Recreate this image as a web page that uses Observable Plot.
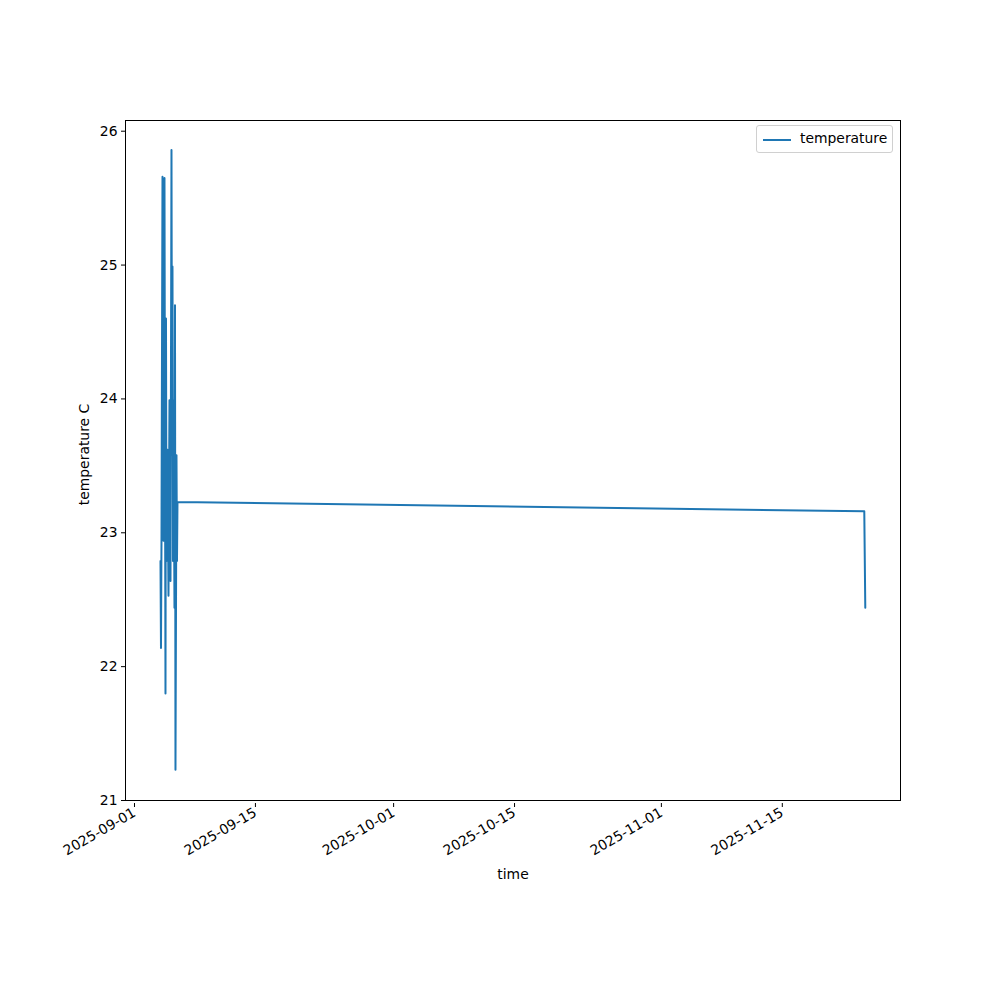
<!DOCTYPE html>
<html>
<head>
<meta charset="utf-8">
<script src="https://cdn.jsdelivr.net/npm/d3@7"></script>
<script src="https://cdn.jsdelivr.net/npm/@observablehq/plot@0.6"></script>
<style>
  body { margin: 0; background: #fff; }
  #wrap { position: relative; width: 1000px; height: 1000px; font-family: "DejaVu Sans", sans-serif; }
  #legend { position: absolute; left: 756px; top: 125px; width: 137px; height: 28px; border: 1px solid #d0d0d0; border-radius: 3px; background: rgba(255,255,255,0.8); box-sizing: border-box; font-size: 13.9px; }
  #legend .sw { position: absolute; left: 6px; top: 13px; width: 28px; height: 0; border-top: 2px solid #1f77b4; }
  #legend .lb { position: absolute; left: 43px; top: 4px; color: #000; }
</style>
</head>
<body>
<div id="wrap">
  <div id="chart"></div>
  <div id="legend"><div class="sw"></div><div class="lb">temperature</div></div>
</div>
<script>
const times = [
  "2025-09-04T08:33", "2025-09-04T09:56", "2025-09-04T11:20", "2025-09-04T14:07",
  "2025-09-04T15:30", "2025-09-04T16:53", "2025-09-04T19:40", "2025-09-04T21:03",
  "2025-09-04T22:27", "2025-09-04T23:50", "2025-09-05T01:13", "2025-09-05T04:00",
  "2025-09-05T06:46", "2025-09-05T09:33", "2025-09-05T12:20", "2025-09-05T15:07",
  "2025-09-05T16:30", "2025-09-05T17:53", "2025-09-05T19:17", "2025-09-05T20:40",
  "2025-09-05T23:27", "2025-09-06T00:50", "2025-09-06T02:13", "2025-09-06T05:00",
  "2025-09-06T06:23", "2025-09-06T07:47", "2025-11-24T20:07", "2025-11-24T22:54"
];
const temperatures = [
  22.79, 22.14, 22.94, 25.66,
  23.99, 22.94, 25.65, 23.62,
  21.80, 24.60, 22.79, 23.62,
  22.53, 23.99, 22.64, 25.86,
  23.84, 24.99, 22.79, 23.99,
  22.44, 24.70, 21.23, 23.58,
  22.79, 23.23, 23.16, 22.44
];
const xTicks = ["2025-09-01", "2025-09-15", "2025-10-01", "2025-10-15", "2025-11-01", "2025-11-15"];
const yTicks = [21, 22, 23, 24, 25, 26];
const xDomain = ["2025-08-31T07:20", "2025-11-29T00:45"];
const yDomain = [21.0, 26.08];

const parse = s => new Date(s + (s.length === 10 ? "T00:00" : "") + ":00Z");
const data = times.map((t, i) => ({time: parse(t), temperature: temperatures[i]}));
const fmt = d3.utcFormat("%Y-%m-%d");

const chart = Plot.plot({
  width: 1000,
  height: 1000,
  marginLeft: 125,
  marginRight: 100,
  marginTop: 120,
  marginBottom: 200,
  style: {fontFamily: "DejaVu Sans, sans-serif", fontSize: "13.9px", color: "#000", background: "#fff"},
  x: {type: "utc", domain: xDomain.map(parse)},
  y: {domain: yDomain},
  marks: [
    Plot.frame({stroke: "#000", strokeWidth: 1}),
    Plot.axisX({ticks: xTicks.map(parse), tickFormat: fmt, tickSize: 4, tickRotate: -30, tickPadding: 4, label: null, textAnchor: "end", dy: 3, dx: 3}),
    Plot.axisY({ticks: yTicks, tickFormat: d => String(d), tickSize: 4, tickPadding: 4, label: null}),
    Plot.text(["time"], {frameAnchor: "bottom", dy: 78, text: d => d, fontSize: 13.9}),
    Plot.text(["temperature C"], {frameAnchor: "left", textAnchor: "middle", dx: -41, dy: -6, rotate: -90, text: d => d, fontSize: 13.9}),
    Plot.line(data, {x: "time", y: "temperature", stroke: "#1f77b4", strokeWidth: 2})
  ]
});
document.getElementById("chart").appendChild(chart);
</script>
</body>
</html>
